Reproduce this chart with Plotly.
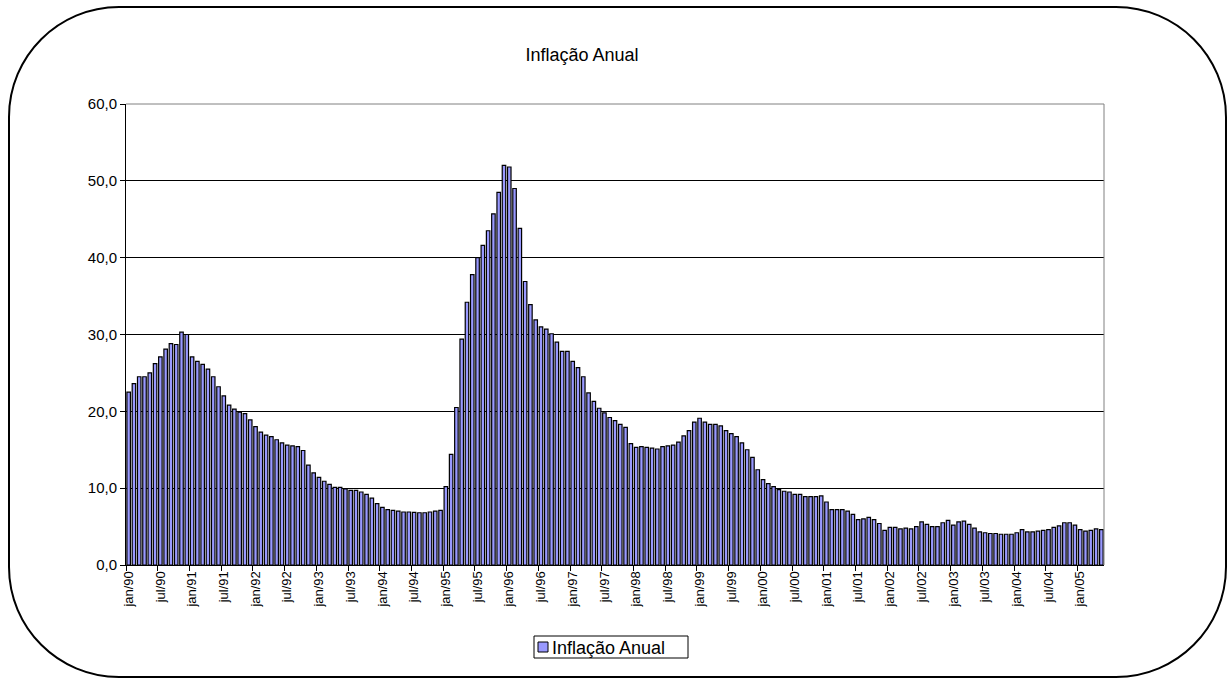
import plotly.graph_objects as go

months_pt = ["jan", "fev", "mar", "abr", "mai", "jun", "jul", "ago", "set", "out", "nov", "dez"]
start_year = 1990
n_months = 185
categories = [f"{months_pt[i % 12]}/{(start_year + i // 12) % 100:02d}" for i in range(n_months)]

inflacao = [
    # 1990
    22.5, 23.6, 24.5, 24.5, 25.0, 26.2, 27.1, 28.1, 28.8, 28.7, 30.3, 30.0,
    # 1991
    27.1, 26.5, 26.1, 25.5, 24.5, 23.2, 22.0, 20.8, 20.3, 19.9, 19.7, 18.9,
    # 1992
    18.0, 17.3, 16.9, 16.7, 16.3, 15.9, 15.6, 15.5, 15.4, 14.9, 13.0, 12.0,
    # 1993
    11.4, 10.9, 10.5, 10.1, 10.1, 9.9, 9.7, 9.7, 9.5, 9.2, 8.7, 8.0,
    # 1994
    7.5, 7.2, 7.1, 7.0, 6.9, 6.9, 6.85, 6.8, 6.8, 6.9, 7.0, 7.1,
    # 1995
    10.2, 14.4, 20.5, 29.4, 34.2, 37.8, 40.0, 41.6, 43.5, 45.7, 48.5, 52.0,
    # 1996
    51.8, 49.0, 43.8, 36.9, 33.9, 31.9, 31.0, 30.7, 30.1, 29.0, 27.8, 27.8,
    # 1997
    26.5, 25.7, 24.5, 22.4, 21.3, 20.4, 19.8, 19.2, 18.8, 18.3, 17.9, 15.8,
    # 1998
    15.3, 15.4, 15.3, 15.2, 15.1, 15.4, 15.5, 15.6, 16.0, 16.8, 17.5, 18.6,
    # 1999
    19.1, 18.6, 18.3, 18.3, 18.1, 17.5, 17.1, 16.7, 15.9, 15.0, 14.0, 12.4,
    # 2000
    11.1, 10.6, 10.2, 9.8, 9.6, 9.5, 9.2, 9.2, 8.9, 8.9, 8.9, 9.0,
    # 2001
    8.2, 7.2, 7.2, 7.2, 7.0, 6.6, 5.9, 6.0, 6.2, 5.9, 5.4, 4.5,
    # 2002
    4.9, 4.9, 4.7, 4.8, 4.7, 5.0, 5.6, 5.3, 5.0, 5.0, 5.5, 5.8,
    # 2003
    5.2, 5.6, 5.7, 5.3, 4.8, 4.3, 4.2, 4.1, 4.1, 4.0, 4.0, 4.0,
    # 2004
    4.2, 4.6, 4.3, 4.3, 4.4, 4.5, 4.6, 4.9, 5.1, 5.5, 5.5, 5.2,
    # 2005
    4.6, 4.4, 4.5, 4.7, 4.6,
]

series_name = "Inflação Anual"
title_text = "Inflação Anual"
bar_color = "#9999FF"

W, H = 1228, 679
ML, MR, MT, MB = 126, 124, 104, 114
PW, PH = W - ML - MR, H - MT - MB


def P(x, y):
    a, b = (x - ML) / PW, (H - MB - y) / PH
    return f"{a:.5f},{b:.5f}"


def px_x(x):
    return (x - ML) / PW


def px_y(y):
    return (H - MB - y) / PH


# outer rounded frame (pixel geometry converted to paper coords)
x0, y0, x1, y1, r = 9, 7, 1226, 677, 110
k = 0.5523 * r
frame_path = (
    f"M {P(x0 + r, y0)} L {P(x1 - r, y0)} "
    f"C {P(x1 - r + k, y0)} {P(x1, y0 + r - k)} {P(x1, y0 + r)} "
    f"L {P(x1, y1 - r)} "
    f"C {P(x1, y1 - r + k)} {P(x1 - r + k, y1)} {P(x1 - r, y1)} "
    f"L {P(x0 + r, y1)} "
    f"C {P(x0 + r - k, y1)} {P(x0, y1 - r + k)} {P(x0, y1 - r)} "
    f"L {P(x0, y0 + r)} "
    f"C {P(x0, y0 + r - k)} {P(x0 + r - k, y0)} {P(x0 + r, y0)} Z"
)

fig = go.Figure()
fig.add_trace(go.Bar(
    x=categories,
    y=inflacao,
    name=series_name,
    marker=dict(color=bar_color, line=dict(color="black", width=1.2)),
    showlegend=False,
))

font_family = "Liberation Sans, Arial, sans-serif"

# legend drawn as a boxed key (border, swatch, label)
leg_l, leg_t, leg_r, leg_b = 534, 636, 688, 658

fig.update_layout(
    width=W, height=H,
    margin=dict(l=ML, r=MR, t=MT, b=MB),
    paper_bgcolor="white",
    plot_bgcolor="white",
    separators=",.",
    bargap=0.34,
    font=dict(family=font_family, color="black"),
    title=dict(
        text=title_text,
        x=582 / W, xref="container", xanchor="center",
        y=1 - 55 / H, yref="container", yanchor="middle",
        font=dict(size=18, family=font_family, color="black"),
    ),
    xaxis=dict(
        type="category",
        tickmode="linear", tick0=0, dtick=6,
        tickson="boundaries",
        ticks="outside", ticklen=5, tickcolor="black",
        tickangle=-90,
        tickfont=dict(size=13, family=font_family, color="black"),
        showline=True, linecolor="black", linewidth=1,
        showgrid=False,
        range=[-0.5, n_months - 0.5],
    ),
    yaxis=dict(
        range=[0, 60],
        tickmode="linear", tick0=0, dtick=10,
        tickformat=".1f",
        ticks="outside", ticklen=5, tickcolor="black",
        tickfont=dict(size=15, family=font_family, color="black"),
        showline=True, linecolor="black", linewidth=1,
        showgrid=True, gridcolor="black", gridwidth=1,
        zeroline=False,
    ),
    shapes=[
        dict(type="path", xref="paper", yref="paper",
             path="M 0,1 L 1,1 L 1,0", line=dict(color="#808080", width=1),
             layer="above"),
        dict(type="path", xref="paper", yref="paper",
             path=frame_path, line=dict(color="black", width=2),
             fillcolor="rgba(0,0,0,0)", layer="above"),
        dict(type="rect", xref="paper", yref="paper",
             x0=px_x(leg_l), x1=px_x(leg_r), y0=px_y(leg_b), y1=px_y(leg_t),
             line=dict(color="black", width=1), fillcolor="white", layer="above"),
        dict(type="rect", xref="paper", yref="paper",
             x0=px_x(538), x1=px_x(548), y0=px_y(652), y1=px_y(642),
             line=dict(color="black", width=1), fillcolor=bar_color, layer="above"),
    ],
    annotations=[
        dict(text=series_name, xref="paper", yref="paper",
             x=px_x(550), y=px_y(647.5), xanchor="left", yanchor="middle",
             showarrow=False,
             font=dict(size=18, family=font_family, color="black")),
    ],
)

fig.write_html("out.html", config={"displayModeBar": False},
               post_script="document.body.style.margin='0';")
